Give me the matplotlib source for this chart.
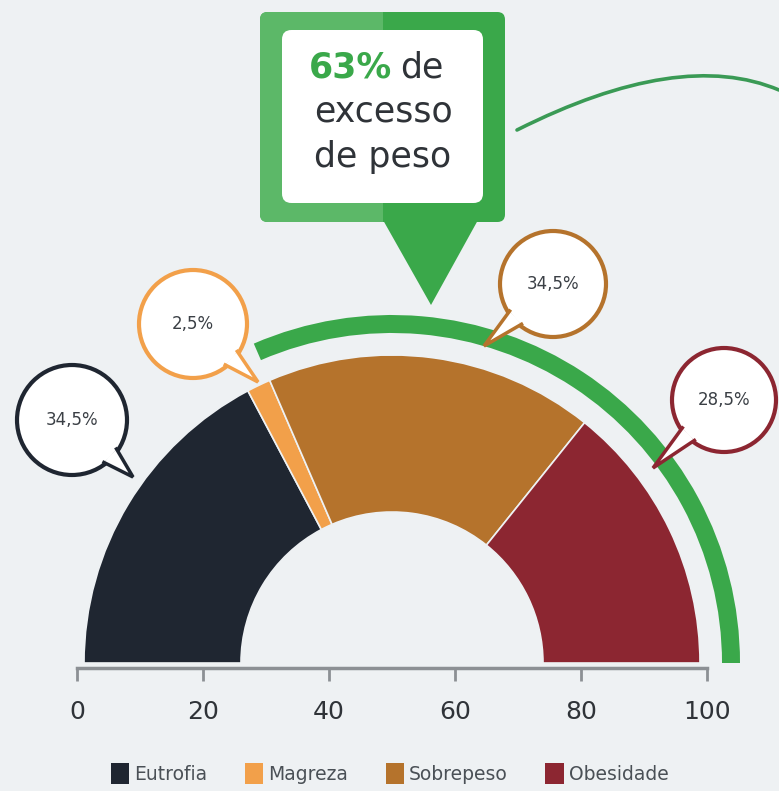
import numpy as np
import matplotlib.pyplot as plt
from matplotlib.patches import Wedge, Circle, Polygon, FancyBboxPatch, Rectangle, Patch, PathPatch
from matplotlib.path import Path

# data
categories = ['Eutrofia', 'Magreza', 'Sobrepeso', 'Obesidade']
values = [34.5, 2.5, 34.5, 28.5]
labels = ['34,5%', '2,5%', '34,5%', '28,5%']
colors = ['#1f2631', '#f2a04a', '#b5732c', '#8c2631']
excess_idx = [2, 3]          # Sobrepeso + Obesidade
excess_total = 63
ticks = [0, 20, 40, 60, 80, 100]

BG = '#eef1f3'
GREEN = '#3aa84a'
TXT = '#2f3338'

W, H = 779, 791
X0, X100, Y0 = 77, 707, 663
S = (X100 - X0) / 100.0   # pixels per unit


def p2d(x, y):
    """pixel -> data"""
    return ((x - X0) / S, (Y0 - y) / S)


fig = plt.figure(figsize=(W / 100, H / 100), dpi=100)
fig.patch.set_facecolor(BG)
ax = fig.add_axes([0, 0, 1, 1])
ax.set_xlim(p2d(0, 0)[0], p2d(W, 0)[0])
ax.set_ylim(p2d(0, H)[1], p2d(0, 0)[1])
ax.axis('off')

# half donut
cx, cy = 50, 0
r_out = 308 / S
r_in = 151 / S
cum = np.concatenate([[0], np.cumsum(values)])
for i in range(len(values)):
    t1 = 180 - cum[i + 1] * 1.8
    t2 = 180 - cum[i] * 1.8
    ax.add_patch(Wedge((cx, cy), r_out, t1, t2, width=r_out - r_in,
                       facecolor=colors[i], edgecolor=BG, lw=1.2))

# green arc over excess weight
start = cum[excess_idx[0]]
ax.add_patch(Wedge((cx, cy), 348 / S, 0, 180 - start * 1.8, width=18 / S,
                   facecolor=GREEN, edgecolor='none'))

# callout bubbles
bubbles = [((72, 420), 55, (133, 477)),
           ((193, 324), 54, (258, 382)),
           ((553, 284), 53, (484, 346)),
           ((724, 400), 52, (653, 468))]
for (c, r, tip), lab, col in zip(bubbles, labels, colors):
    cc = p2d(*c)
    rr = r / S
    tp = p2d(*tip)
    ax.add_patch(Circle(cc, rr, facecolor='white', edgecolor=col, lw=3, zorder=5))
    ang = np.arctan2(tp[1] - cc[1], tp[0] - cc[0])
    da = np.radians(10)
    b1 = (cc[0] + (rr - 0.3) * np.cos(ang - da), cc[1] + (rr - 0.3) * np.sin(ang - da))
    b2 = (cc[0] + (rr - 0.3) * np.cos(ang + da), cc[1] + (rr - 0.3) * np.sin(ang + da))
    ax.add_patch(Polygon([b1, tp, b2], closed=True, facecolor='white',
                         edgecolor='none', zorder=6))
    ax.plot([b1[0], tp[0], b2[0]], [b1[1], tp[1], b2[1]], color=col, lw=2.5,
            solid_joinstyle='miter', zorder=7)
    ax.text(cc[0], cc[1], lab, ha='center', va='center', fontsize=12,
            color='#3a3f45', zorder=8)

# top callout box
bx0, by0 = p2d(260, 222)
bx1, by1 = p2d(505, 12)
box = FancyBboxPatch((bx0, by0), bx1 - bx0, by1 - by0,
                     boxstyle='round,pad=0,rounding_size=1.2',
                     facecolor=GREEN, edgecolor='none', zorder=3)
ax.add_patch(box)
lx1 = p2d(383, 0)[0]
half = Rectangle((bx0, by0), lx1 - bx0, by1 - by0, facecolor='#5cb868',
                 edgecolor='none', zorder=3)
ax.add_patch(half)
half.set_clip_path(box)
ix0, iy0 = p2d(282, 203)
ix1, iy1 = p2d(483, 30)
ax.add_patch(FancyBboxPatch((ix0, iy0), ix1 - ix0, iy1 - iy0,
                            boxstyle='round,pad=0,rounding_size=1.5',
                            facecolor='white', edgecolor='none', zorder=4))
ax.add_patch(Polygon([p2d(383, 220), p2d(478, 220), p2d(431, 305)], closed=True,
                     facecolor=GREEN, edgecolor='none', zorder=3))
ax.text(*p2d(392, 67), f'{excess_total}%', ha='right', va='center', fontsize=25,
        color=GREEN, fontweight='bold', zorder=5)
ax.text(*p2d(400, 67), 'de', ha='left', va='center', fontsize=25, color=TXT, zorder=5)
ax.text(*p2d(383, 112), 'excesso', ha='center', va='center', fontsize=25, color=TXT, zorder=5)
ax.text(*p2d(383, 157), 'de peso', ha='center', va='center', fontsize=25, color=TXT, zorder=5)

# decorative green curve
curve = Path([p2d(517, 130), p2d(680, 48), p2d(779, 90)],
             [Path.MOVETO, Path.CURVE3, Path.CURVE3])
ax.add_patch(PathPatch(curve, facecolor='none', edgecolor='#3a9a55', lw=2.6,
                       capstyle='round'))

# x axis
ax2 = fig.add_axes([X0 / W, 1 - 668 / H, (X100 - X0) / W, 0.0001])
ax2.set_xlim(0, 100)
ax2.set_facecolor('none')
ax2.set_xticks(ticks)
ax2.set_yticks([])
for s in ['top', 'left', 'right']:
    ax2.spines[s].set_visible(False)
ax2.spines['bottom'].set_color('#8c9094')
ax2.spines['bottom'].set_linewidth(2.5)
ax2.tick_params(axis='x', length=9, width=2, color='#8c9094', labelsize=18,
                labelcolor=TXT, pad=14)

# legend
handles = [Patch(facecolor=c, edgecolor='none') for c in colors]
fig.legend(handles, categories, loc='lower center', bbox_to_anchor=(0.5, -0.012),
           ncol=4, frameon=False, fontsize=13.5, handlelength=1.0, handleheight=1.3,
           handletextpad=0.25, columnspacing=2.0, labelcolor='#4a5056')

fig.savefig('out.png', dpi=100, facecolor=BG)
